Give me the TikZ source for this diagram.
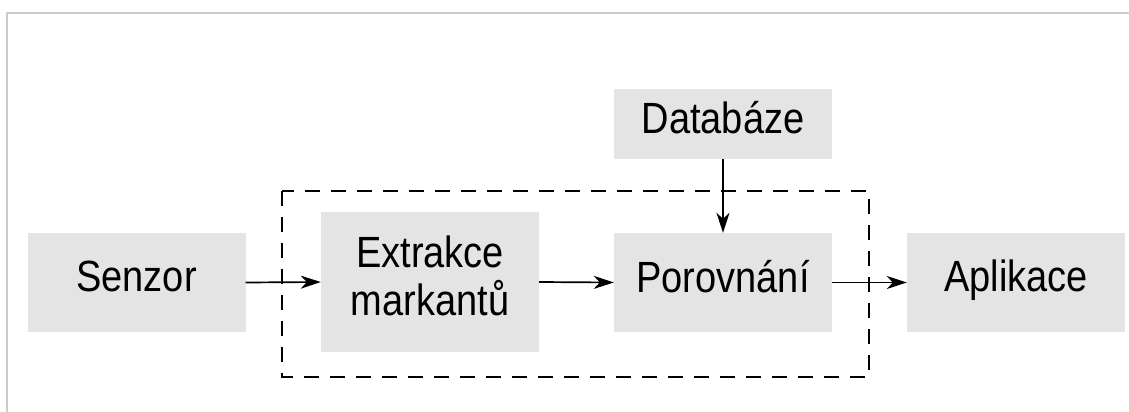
\documentclass[tikz,border=0pt]{standalone}
\usepackage{fontspec}
\setmainfont{Liberation Sans}
\usetikzlibrary{arrows.meta}
\definecolor{boxgray}{HTML}{E4E4E4}
\definecolor{framegray}{HTML}{CCCCCC}
\newcommand{\stretchtxt}[1]{\scalebox{1}[1.15]{\begin{tabular}{@{}c@{}}#1\end{tabular}}}
\begin{document}
\begin{tikzpicture}[x=1pt,y=-1pt,
  blk/.style={fill=boxgray, draw=none, minimum width=218pt, minimum height=99pt, inner sep=0pt, align=center, font=\fontsize{38}{38}\selectfont},
  conn/.style={line width=1.7pt, -{Stealth[length=20pt,width=13pt,inset=6pt]}},
  dashbox/.style={line width=2.6pt, dash pattern=on 15pt off 11pt}
]
\useasboundingbox (0,0) rectangle (1129,412);
\draw[framegray, line width=1.5pt] (7,412) -- (7,13) -- (1129,13);
\node[blk] (sen) at (136.5,282.5) {\stretchtxt{Senzor}};
\node[blk, minimum height=140pt] (ext) at (430,282) {\stretchtxt{Extrakce\\markantů}};
\node[blk] (por) at (723,282.5) {\stretchtxt{Porovnání}};
\node[blk] (apl) at (1016,282.5) {\stretchtxt{Aplikace}};
\node[blk, minimum height=70pt] (dat) at (723,124) {\stretchtxt{Databáze}};
\draw[dashbox] (282,191) rectangle (869,377);
\draw[conn] (sen.east) -- (ext.west);
\draw[conn] (ext.east) -- (por.west);
\draw[conn] (por.east) -- (apl.west);
\draw[conn] (dat.south) -- (por.north);
\end{tikzpicture}
\end{document}
